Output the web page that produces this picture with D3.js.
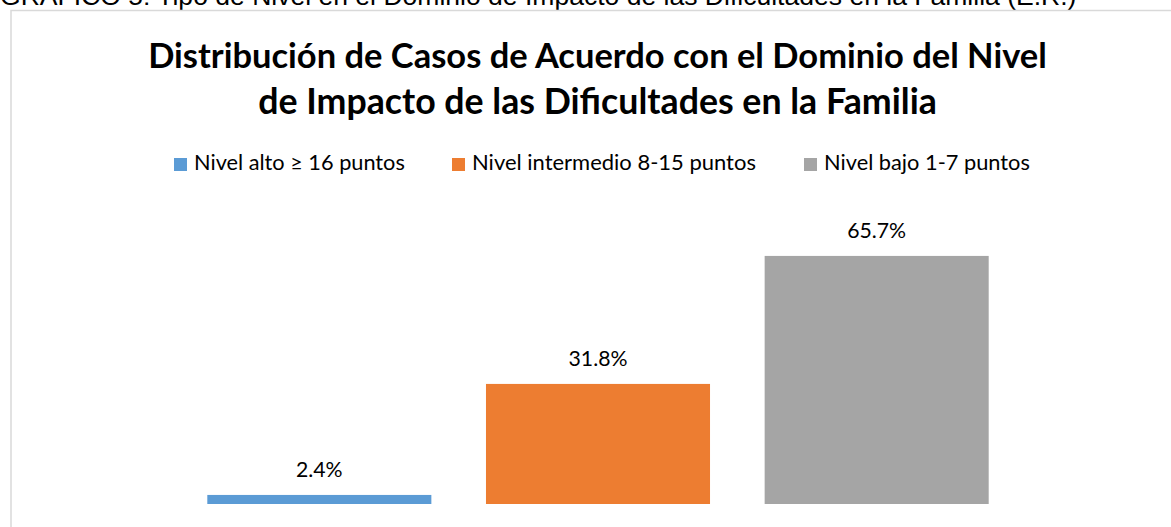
<!DOCTYPE html>
<html>
<head>
<meta charset="utf-8">
<script src="https://cdn.jsdelivr.net/npm/d3@7"></script>
<style>
  html, body { margin: 0; padding: 0; background: #fff; overflow: hidden; }
  text { font-family: Lato, "Open Sans", sans-serif; fill: #000; }
</style>
</head>
<body>
<div id="chart"></div>
<script>
// data
const pageCaption = "GRÁFICO 5: Tipo de Nivel en el Dominio de Impacto de las Dificultades en la Familia (E.R.)";
const titleLines = ["Distribución de Casos de Acuerdo con el Dominio del Nivel", "de Impacto de las Dificultades en la Familia"];
const categories = ["Nivel alto ≥ 16 puntos", "Nivel intermedio 8-15 puntos", "Nivel bajo 1-7 puntos"];
const values = [2.4, 31.8, 65.7];
const colors = ["#5b9bd5", "#ed7d31", "#a5a5a5"];

const W = 1171, H = 527;
const svg = d3.select("#chart").append("svg")
    .attr("width", W)
    .attr("height", H);

// scale a text so that it is as wide as the source picture
function fitWidth(sel, target) {
    const w = sel.node().getComputedTextLength();
    const fs = parseFloat(sel.attr("font-size"));
    sel.attr("font-size", fs * target / w);
}

// caption above the chart box (cut off at the top, as in the source)
const cap = svg.append("text")
    .attr("x", 0)
    .attr("y", 5)
    .attr("font-size", 20)
    .style("font-family", "'Liberation Sans', Arial, sans-serif")
    .text(pageCaption);
fitWidth(cap, 1077);

// chart box
svg.append("rect")
    .attr("x", 11)
    .attr("y", 10.5)
    .attr("width", W + 20)
    .attr("height", H + 20)
    .attr("fill", "#fff")
    .attr("stroke", "#d9d9d9")
    .attr("stroke-width", 1.5);

// title
const titleWidths = [899, 679];
titleLines.forEach((t, i) => {
    const tt = svg.append("text")
        .attr("x", 597.5)
        .attr("y", 68 + i * 46)
        .attr("text-anchor", "middle")
        .attr("font-weight", "bold")
        .attr("font-size", 30)
        .text(t);
    fitWidth(tt, titleWidths[i]);
});

// legend
const legendX = [174, 452, 804];
const legendW = [211, 284, 206];
const legend = svg.append("g");
categories.forEach((c, i) => {
    legend.append("rect")
        .attr("x", legendX[i])
        .attr("y", 158)
        .attr("width", 13)
        .attr("height", 13)
        .attr("fill", colors[i]);
    const lt = legend.append("text")
        .attr("x", legendX[i] + 20)
        .attr("y", 170)
        .attr("font-size", 20)
        .text(c);
    fitWidth(lt, legendW[i]);
});

// bars
const x = d3.scaleBand()
    .domain(categories)
    .range([180, 1016])
    .paddingInner(0.196)
    .paddingOuter(0.098);
const y = d3.scaleLinear()
    .domain([0, 70])
    .range([504, 504 - 70 * 3.776]);

svg.append("g").selectAll("rect")
    .data(values)
    .join("rect")
    .attr("x", (d, i) => x(categories[i]))
    .attr("y", d => y(d))
    .attr("width", x.bandwidth())
    .attr("height", d => y(0) - y(d))
    .attr("fill", (d, i) => colors[i]);

// data labels
const labels = svg.append("g").selectAll("text")
    .data(values)
    .join("text")
    .attr("x", (d, i) => x(categories[i]) + x.bandwidth() / 2)
    .attr("y", d => y(d) - 18)
    .attr("text-anchor", "middle")
    .attr("font-size", 20)
    .text(d => d.toFixed(1) + "%");
const lw = labels.nodes()[1].getComputedTextLength();
labels.attr("font-size", 20 * 59 / lw);
</script>
</body>
</html>
